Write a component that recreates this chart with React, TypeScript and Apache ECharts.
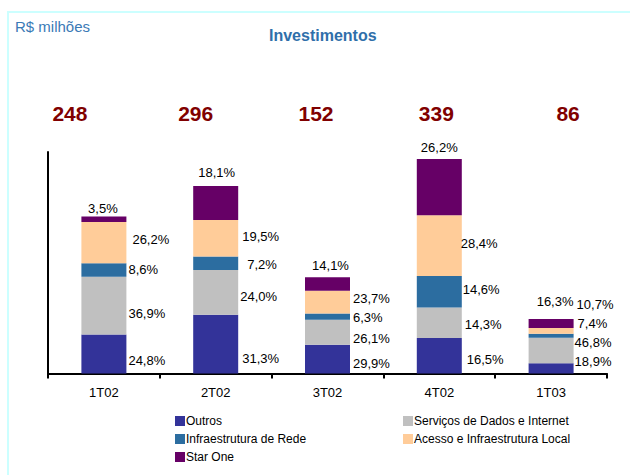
import React, { useEffect, useRef } from "react";
import * as echarts from "echarts";

const categories = ["1T02", "2T02", "3T02", "4T02", "1T03"];
const totals = [248, 296, 152, 339, 86];
const outrosPct = [24.8, 31.3, 29.9, 16.5, 18.9];
const servicosPct = [36.9, 24.0, 26.1, 14.3, 46.8];
const infraPct = [8.6, 7.2, 6.3, 14.6, 7.4];
const acessoPct = [26.2, 19.5, 23.7, 28.4, 10.7];
const starOnePct = [3.5, 18.1, 14.1, 26.2, 16.3];

const FONT = "'Liberation Sans', Arial, sans-serif";

const fmt = (v: number) => v.toFixed(1).replace(".", ",") + "%";

function makeSeries(
  name: string,
  pcts: number[],
  color: string,
  position: string,
  offsets: number[][]
) {
  return {
    name,
    type: "bar",
    stack: "total",
    barWidth: 45,
    itemStyle: { color },
    data: pcts.map((p, i) => ({
      value: (totals[i] * p) / 100,
      label: { offset: offsets[i] },
    })),
    label: {
      show: true,
      position,
      distance: 5,
      color: "#000",
      fontFamily: FONT,
      fontSize: 13,
      formatter: (prm: any) => fmt(pcts[prm.dataIndex]),
    },
  };
}

export default function App() {
  const ref = useRef<HTMLDivElement>(null);
  useEffect(() => {
    if (!ref.current) return;
    const chart = echarts.init(ref.current, null, { renderer: "svg" });
    const legendText = {
      fontFamily: FONT,
      fontSize: 12,
      color: "#000",
      lineHeight: 14,
      padding: [0, 0, 0, -4],
    };
    const option: any = {
      animation: false,
      backgroundColor: "#fff",
      textStyle: { fontFamily: FONT },
      title: [
        {
          text: "Investimentos",
          left: 269,
          top: 27,
          padding: 0,
          textStyle: { fontFamily: FONT, fontSize: 16, fontWeight: "bold", color: "#2F6FAA" },
        },
        {
          text: "R$ milhões",
          left: 15,
          top: 19,
          padding: 0,
          textStyle: { fontFamily: FONT, fontSize: 15, fontWeight: "normal", color: "#3A7AB6" },
        },
      ],
      graphic: [
        {
          type: "rect",
          shape: { x: 8, y: 12, width: 700, height: 520 },
          style: { fill: "none", stroke: "#CCFFFF", lineWidth: 2 },
          silent: true,
          z: -1,
        },
      ],
      legend: [
        {
          orient: "vertical",
          left: 175,
          top: 414,
          padding: 0,
          itemWidth: 10,
          itemHeight: 10,
          itemGap: 4,
          icon: "rect",
          data: ["Outros", "Infraestrutura de Rede", "Star One"],
          textStyle: legendText,
        },
        {
          orient: "vertical",
          left: 403,
          top: 414,
          padding: 0,
          itemWidth: 10,
          itemHeight: 10,
          itemGap: 4,
          icon: "rect",
          data: ["Serviços de Dados e Internet", "Acesso e Infraestrutura Local"],
          textStyle: legendText,
        },
      ],
      grid: { left: 48, right: 23, top: 152, bottom: 101.5, containLabel: false },
      xAxis: {
        type: "category",
        data: categories,
        axisLine: { show: true, lineStyle: { color: "#000", width: 2 } },
        axisTick: { show: true, length: 5, lineStyle: { color: "#000", width: 2 } },
        axisLabel: { color: "#000", fontFamily: FONT, fontSize: 13, margin: 12 },
      },
      yAxis: {
        type: "value",
        min: 0,
        max: 350,
        axisLine: { show: true, lineStyle: { color: "#000", width: 2 } },
        axisTick: { show: false },
        axisLabel: { show: false },
        splitLine: { show: false },
      },
      series: [
        makeSeries("Outros", outrosPct, "#333399", "right", [
          [-3, 6], [-1, 14.5], [-2, 4], [0, 4], [-4, -7],
        ]),
        makeSeries("Serviços de Dados e Internet", servicosPct, "#C0C0C0", "right", [
          [-3, 8], [-3, 4], [-2, 6], [-2, 2], [-4, -8],
        ]),
        makeSeries("Infraestrutura de Rede", infraPct, "#2C6DA0", "right", [
          [-3, 0], [4, 1], [-2, 1], [-4, -2], [-1, -12.5],
        ]),
        makeSeries("Acesso e Infraestrutura Local", acessoPct, "#FFCC99", "right", [
          [1, -3], [-1, -2], [-2, -4], [-6, -2], [-2, -26],
        ]),
        makeSeries("Star One", starOnePct, "#660066", "top", [
          [-1, 3], [1, -2], [3, 0], [0, 0], [4, -6],
        ]),
        {
          name: "Totais",
          type: "scatter",
          symbolSize: 1,
          clip: false,
          itemStyle: { color: "rgba(0,0,0,0)" },
          data: totals.map((t, i) => ({
            value: [i, 350],
            label: { offset: [[-34, -39], [-20, -39], [-11.5, -39], [-3, -39], [17, -39]][i] },
          })),
          label: {
            show: true,
            position: "inside",
            color: "#800000",
            opacity: 1,
            textBorderWidth: 0,
            textBorderColor: "transparent",
            fontFamily: FONT,
            fontSize: 21,
            fontWeight: "bold",
            formatter: (prm: any) => String(totals[prm.dataIndex]),
          },
        },
      ],
    };
    chart.setOption(option);
    return () => chart.dispose();
  }, []);
  return (
    <div
      ref={ref}
      style={{ position: "absolute", left: 0, top: 0, width: 630, height: 475 }}
    />
  );
}
